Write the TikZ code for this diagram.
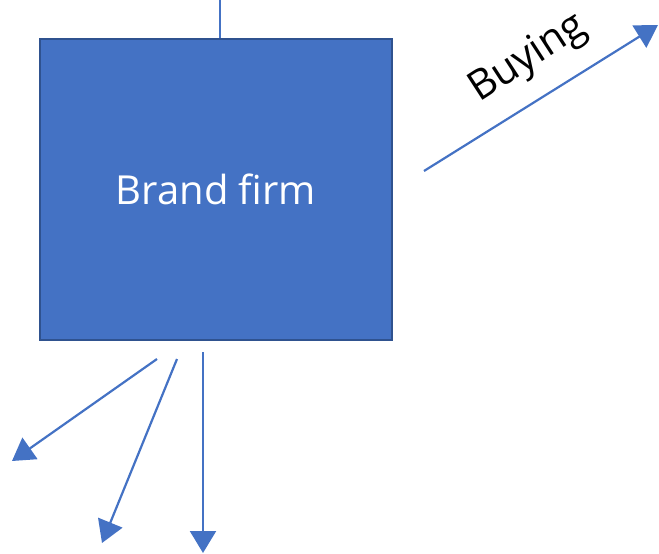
\documentclass[tikz,border=0pt]{standalone}
\usepackage{fontspec}
\setmainfont{Open Sans}
\usetikzlibrary{arrows.meta}
\definecolor{boxblue}{HTML}{4472C4}
\definecolor{boxedge}{HTML}{2F528F}
\begin{document}
\begin{tikzpicture}[x=1pt,y=-1pt,
  flow/.style={draw=boxblue,line width=2.2pt,-{Triangle[length=22pt,width=26pt]}},
  firm/.style={draw=boxedge,line width=2pt,fill=boxblue,minimum width=352pt,minimum height=301pt,inner sep=0pt}]
  \useasboundingbox (0,0) rectangle (659,554);
  % the firm
  \node[firm] (firm) at (215.5,189) {};
  \node[anchor=base,text=white,font=\fontsize{40}{48}\selectfont] (name) at (216,204) {Brand firm};
  % line entering from above
  \coordinate (top) at (220,0);
  \draw[boxblue,line width=2pt] (top) -- (top |- firm.north);
  % buying arrow
  \coordinate (bs) at (424,171);
  \coordinate (be) at (658,25);
  \draw[flow] (bs) -- (be);
  \node[anchor=base west,rotate=33,font=\fontsize{41}{48}\selectfont,inner sep=0pt] (buy) at (479,103) {Buying};
  % outgoing arrows below
  \coordinate (s1) at (157,359);
  \coordinate (e1) at (12,461);
  \coordinate (s2) at (177,359);
  \coordinate (e2) at (102,543);
  \coordinate (s3) at (203,352);
  \coordinate (e3) at (203,553);
  \draw[flow] (s1) -- (e1);
  \draw[flow] (s2) -- (e2);
  \draw[flow] (s3) -- (e3);
\end{tikzpicture}
\end{document}
